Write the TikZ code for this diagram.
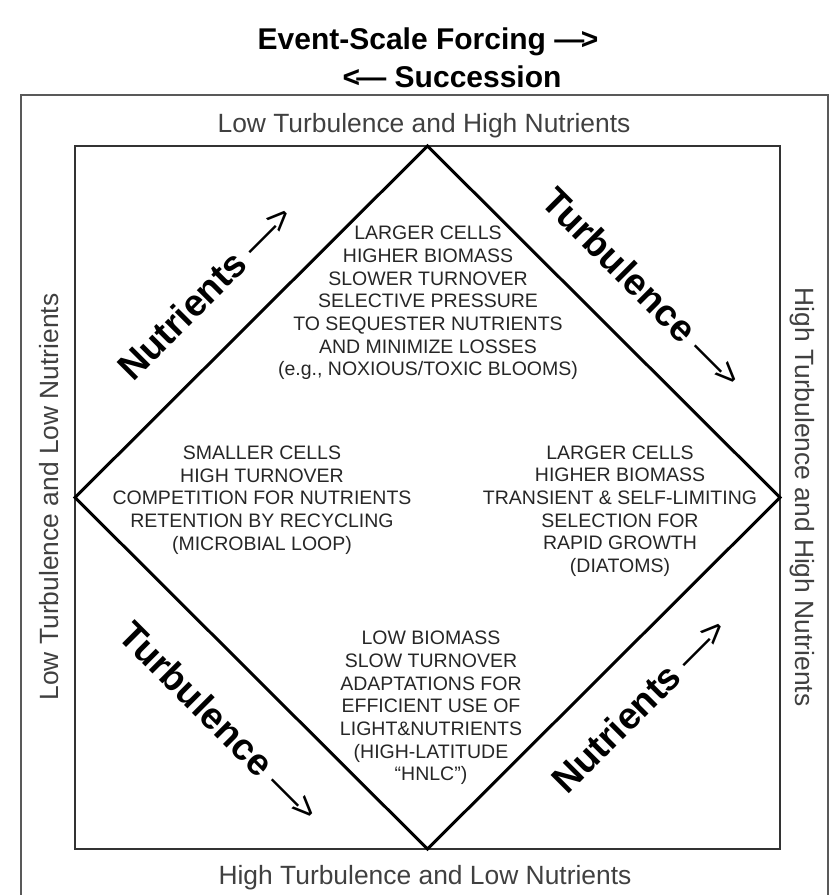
\documentclass[tikz,border=0pt]{standalone}
\usepackage{fontspec}
\setmainfont{Liberation Sans}
\newcommand\rarrowtxt{{\mdseries —\kern-0.12em>}}
\newcommand\larrowtxt{{\mdseries <\kern-0.12em—}}
\newcommand\rarrowbold{—\kern-0.12em>}
\newcommand\larrowbold{<\kern-0.12em—}
\begin{document}
\begin{tikzpicture}[x=1pt,y=-1pt,
  content/.style={align=center, text=black!85, font=\fontsize{19.5}{22.7}\selectfont, inner sep=0pt},
  sidelabel/.style={anchor=base, text=black!75, font=\fontsize{26.4}{30}\selectfont, inner sep=0pt},
  forcelabel/.style={inner sep=0pt, font=\fontsize{37.5}{40}\selectfont\bfseries},
  titlelabel/.style={inner sep=0pt, font=\fontsize{30}{34}\selectfont\bfseries},
  outerframe/.style={draw=black!65, line width=1.6pt},
  innerframe/.style={draw=black!80, line width=1.6pt},
  diamondline/.style={draw=black, line width=3pt, line join=miter}]
\useasboundingbox (0,0) rectangle (832,895);

% title
\node[titlelabel] (title1) at (428,42) {Event-Scale Forcing \rarrowbold};
\node[titlelabel] (title2) at (452,77) {\larrowbold\ Succession};

% outer frame (open at the bottom edge of the picture)
\coordinate (obl) at (21,895);
\coordinate (otl) at (21,95);
\coordinate (otr) at (828,95);
\coordinate (obr) at (828,895);
\draw[outerframe] (obl) -- (otl) -- (otr) -- (obr);

% inner square
\coordinate (itl) at (75,146);
\coordinate (ibr) at (780,849);
\draw[innerframe] (itl) rectangle (ibr);

% diamond
\coordinate (dT) at (427.5,146);
\coordinate (dR) at (780,497.5);
\coordinate (dB) at (427.5,849);
\coordinate (dL) at (75,497.5);
\draw[diamondline] (dT) -- (dR) -- (dB) -- (dL) -- cycle;

% side labels
\node[sidelabel] (sTop) at (424,132) {Low Turbulence and High Nutrients};
\node[sidelabel] (sBot) at (425,884) {High Turbulence and Low Nutrients};
\node[sidelabel, rotate=90] (sLeft) at (58,497) {Low Turbulence and Low Nutrients};
\node[sidelabel, rotate=-90] (sRight) at (795,497) {High Turbulence and High Nutrients};

% forcing labels
\node[forcelabel, rotate=45] (fTL) at (205,292) {Nutrients \rarrowtxt};
\node[forcelabel, rotate=-45] (fTR) at (643,288) {Turbulence \rarrowtxt};
\node[forcelabel, rotate=-45] (fBL) at (220,722) {Turbulence \rarrowtxt};
\node[forcelabel, rotate=45] (fBR) at (639,705) {Nutrients \rarrowtxt};

% quadrant contents
\node[content] (qTop) at (428,303) {LARGER CELLS\\HIGHER BIOMASS\\SLOWER TURNOVER\\SELECTIVE PRESSURE\\TO SEQUESTER NUTRIENTS\\AND MINIMIZE LOSSES\\(e.g., NOXIOUS/TOXIC BLOOMS)};
\node[content] (qLeft) at (262,500) {SMALLER CELLS\\HIGH TURNOVER\\COMPETITION FOR NUTRIENTS\\RETENTION BY RECYCLING\\(MICROBIAL LOOP)};
\node[content] (qRight) at (620,511) {LARGER CELLS\\HIGHER BIOMASS\\TRANSIENT \& SELF-LIMITING\\SELECTION FOR\\RAPID GROWTH\\(DIATOMS)};
\node[content] (qBot) at (431,708) {LOW BIOMASS\\SLOW TURNOVER\\ADAPTATIONS FOR\\EFFICIENT USE OF\\LIGHT\&NUTRIENTS\\(HIGH-LATITUDE\\“HNLC”)};
\end{tikzpicture}
\end{document}
